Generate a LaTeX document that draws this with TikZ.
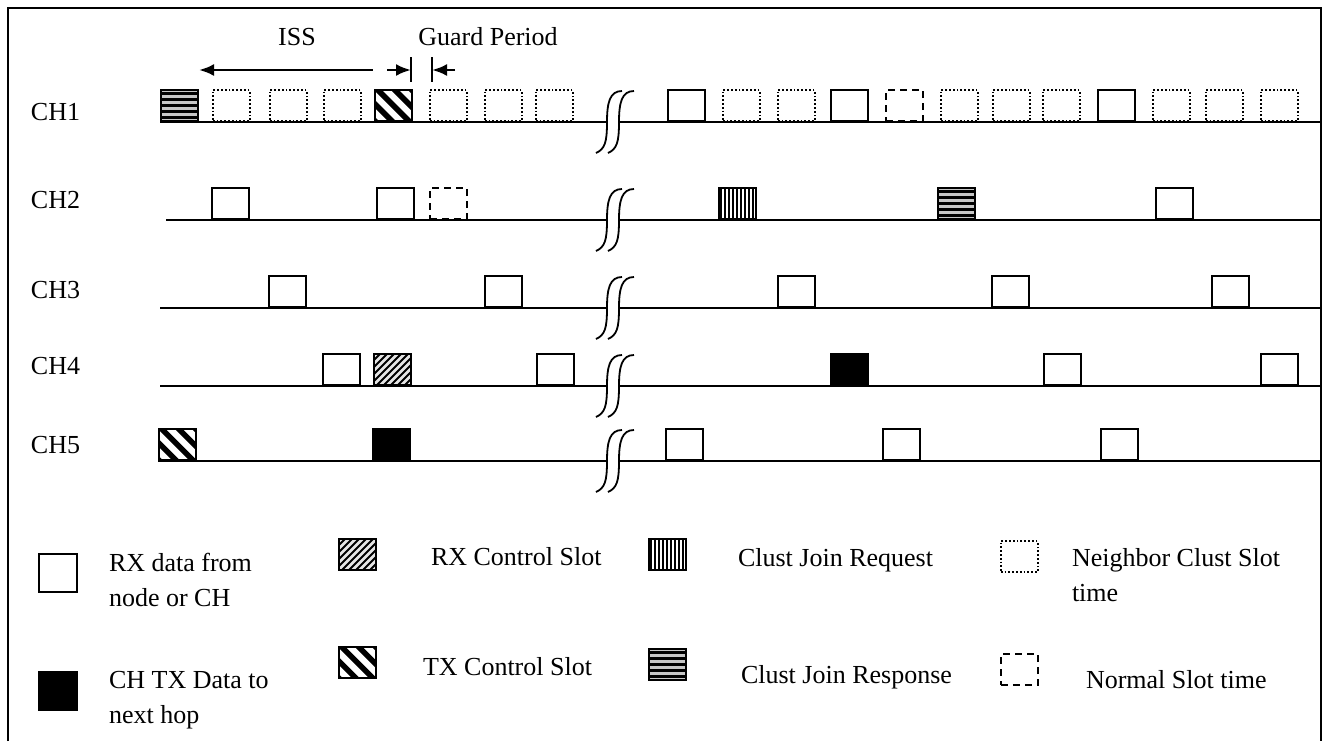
\documentclass[tikz,border=0pt]{standalone}
\usepackage{fontspec}
\setmainfont{Liberation Serif}
\usetikzlibrary{arrows.meta}

\begin{document}
\begin{tikzpicture}[x=0.5pt, y=-0.5pt, line width=1pt, font=\fontsize{13}{17.5}\selectfont,
    slot/.style={draw, line width=0.9pt, inner sep=0pt, minimum width=18.5pt, minimum height=15.5pt, anchor=south west},
    rx/.style={slot},
    nbr/.style={slot, densely dotted, line width=0.8pt},
    norm/.style={slot, line width=0.9pt, dash pattern=on 3.5pt off 2.5pt},
    chtx/.style={slot, fill=black},
    joinreq/.style={slot, path picture={\foreach \k in {-4,...,4}
        \draw[line width=1pt] ([xshift=\k*2pt]path picture bounding box.north) -- ([xshift=\k*2pt]path picture bounding box.south);}},
    joinresp/.style={slot, fill=gray!45, path picture={\foreach \k in {-2,...,2}
        \draw[line width=1.3pt] ([yshift=\k*3pt]path picture bounding box.west) -- ([yshift=\k*3pt]path picture bounding box.east);}},
    txctl/.style={slot, path picture={\foreach \k in {-2,...,2}
        \draw[line width=2.8pt] ([shift={(\k*8.5pt-14pt,14pt)}]path picture bounding box.center) -- ++(28pt,-28pt);}},
    rxctl/.style={slot, fill=gray!20, path picture={\foreach \k in {-5,...,5}
        \draw[line width=0.9pt] ([shift={(\k*3.5pt-14pt,-14pt)}]path picture bounding box.center) -- ++(28pt,28pt);}},
    chlabel/.style={anchor=west, inner sep=0pt},
    legtext/.style={anchor=west, align=left, inner sep=0pt},
    arr/.style={-{Latex[length=7.5pt,width=6pt]}}
]
\useasboundingbox (0,0) rectangle (1324,741);
\draw (8,741) -- (8,8) -- (1321,8) -- (1321,741);

% channels, with the break in the middle
\foreach \n/\y/\s/\l in {1/122/160/112, 2/220/166/200, 3/308/160/290, 4/386/160/366, 5/461/158/445}{
    \node[chlabel] (ch\n) at (30,\l) {CH\n};
    \draw (\s,\y) -- (607,\y) (619,\y) -- (1320,\y);
    \foreach \d in {0,12}
        \draw[line width=0.9pt] (622+\d,\y-31) .. controls (610+\d,\y-31) and (607+\d,\y-20) .. (607+\d,\y)
            .. controls (607+\d,\y+20) and (605+\d,\y+27) .. (596+\d,\y+31);
}

% slots
\foreach \t/\x [count=\i] in {joinresp/160, nbr/212, nbr/269, nbr/323, txctl/374, nbr/429, nbr/484, nbr/535,
        rx/667, nbr/722, nbr/777, rx/830, norm/885, nbr/940, nbr/992, nbr/1042, rx/1097, nbr/1152, nbr/1205, nbr/1260}
    \node[\t] (chA\i) at (\x,122) {};
\foreach \t/\x [count=\i] in {rx/211, rx/376, norm/429, joinreq/718, joinresp/937, rx/1155}
    \node[\t] (chB\i) at (\x,220) {};
\foreach \t/\x [count=\i] in {rx/268, rx/484, rx/777, rx/991, rx/1211}
    \node[\t] (chC\i) at (\x,308) {};
\foreach \t/\x [count=\i] in {rx/322, rxctl/373, rx/536, chtx/830, rx/1043, rx/1260}
    \node[\t] (chD\i) at (\x,386) {};
\foreach \t/\x [count=\i] in {txctl/158, chtx/372, rx/665, rx/882, rx/1100}
    \node[\t] (chE\i) at (\x,461) {};

% ISS and guard period
\node (iss) at (297,37) {ISS};
\node (gp) at (488,37) {Guard Period};
\coordinate (issa) at (199,70);
\coordinate (issb) at (373,70);
\draw[arr, {Latex[length=7.5pt,width=6pt]}-, line width=1.3pt] (issa) -- (issb);
\coordinate (gpa) at (411,70);
\coordinate (gpb) at (432,70);
\draw (411,57) -- (411,82) (432,57) -- (432,82);
\draw[arr, line width=1.3pt] (387,70) -- (gpa);
\draw[arr, line width=1.3pt] (455,70) -- (gpb);

% legend
\node[rx, minimum width=19pt, minimum height=19pt] (lrx) at (38,593) {};
\node[legtext] (lrxt) at (108,580) {RX data from\\node or CH};
\node[rxctl] (lrxc) at (338,571) {};
\node[legtext] (lrxct) at (430,557) {RX Control Slot};
\node[joinreq] (ljrq) at (648,571) {};
\node[legtext] (ljrqt) at (737,560) {Clust Join Request};
\node[nbr] (lnbr) at (1000,573) {};
\node[legtext] (lnbrt) at (1071,575) {Neighbor Clust Slot\\time};
\node[chtx, minimum width=19pt, minimum height=19pt] (ltx) at (38,711) {};
\node[legtext] (ltxt) at (108,700) {CH TX Data to\\next hop};
\node[txctl] (ltxc) at (338,679) {};
\node[legtext] (ltxct) at (422,667) {TX Control Slot};
\node[joinresp] (ljrs) at (648,681) {};
\node[legtext] (ljrst) at (740,677) {Clust Join Response};
\node[norm] (lnorm) at (1000,686) {};
\node[legtext] (lnormt) at (1085,680) {Normal Slot time};
\end{tikzpicture}
\end{document}
